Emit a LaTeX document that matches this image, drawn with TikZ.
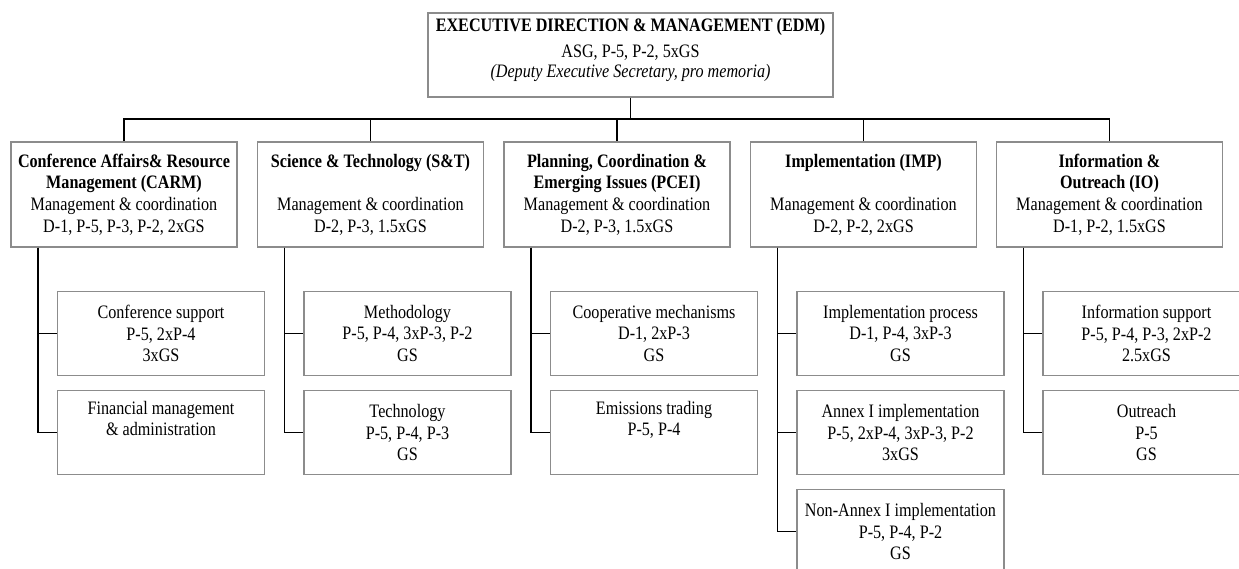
\documentclass[tikz,border=0pt]{standalone}
\usepackage{fontspec}
\setmainfont{Liberation Serif}[FakeStretch=0.85]

\begin{document}
\begin{tikzpicture}[x=1pt,y=-1pt,
    box/.style={draw=black!45, line width=1.1pt, align=center, inner sep=0pt,
                font=\fontsize{19}{21.7}\selectfont},
    headbox/.style={box, minimum width=405pt, minimum height=84pt},
    unitbox/.style={box, minimum width=226pt, minimum height=105pt},
    subbox/.style={box, minimum width=207pt, minimum height=84pt},
    link/.style={black, line width=1.3pt}]
            \useasboundingbox (0,0) rectangle (1239,569);
            \clip (0,0) rectangle (1239,569);

            % Executive direction
            \node[headbox] (edm) at (630.5,55)
                {\textbf{EXECUTIVE DIRECTION \& MANAGEMENT (EDM)}\\[5pt]
                 ASG, P-5, P-2, 5xGS\\[-2pt]
                 \textit{(Deputy Executive Secretary, pro memoria)}\\[-14pt]\strut};

            % Programmes
            \node[unitbox] (carm) at (124,194.5)
                {\textbf{Conference Affairs\& Resource}\\ \textbf{Management (CARM)}\\
                 Management \& coordination\\ D-1, P-5, P-3, P-2, 2xGS};
            \node[unitbox] (st) at (370.5,194.5)
                {\textbf{Science \& Technology (S\&T)}\\ \strut\\
                 Management \& coordination\\ D-2, P-3, 1.5xGS};
            \node[unitbox] (pcei) at (617,194.5)
                {\textbf{Planning, Coordination \&}\\ \textbf{Emerging Issues (PCEI)}\\
                 Management \& coordination\\ D-2, P-3, 1.5xGS};
            \node[unitbox] (imp) at (863.5,194.5)
                {\textbf{Implementation (IMP)}\\ \strut\\
                 Management \& coordination\\ D-2, P-2, 2xGS};
            \node[unitbox] (io) at (1109.5,194.5)
                {\textbf{Information \&}\\ \textbf{Outreach (IO)}\\
                 Management \& coordination\\ D-1, P-2, 1.5xGS};

            % Sub-programmes
            \node[subbox] (confsup) at (161,333.5) {Conference support\\ P-5, 2xP-4\\ 3xGS};
            \node[subbox] (finman) at (161,432.5) {Financial management\\ \& administration\\ \strut};
            \node[subbox] (meth) at (407.5,333.5) {Methodology\\ P-5, P-4, 3xP-3, P-2\\ GS};
            \node[subbox] (tech) at (407.5,432.5) {Technology\\ P-5, P-4, P-3\\ GS};
            \node[subbox] (coop) at (654,333.5) {Cooperative mechanisms\\ D-1, 2xP-3\\ GS};
            \node[subbox] (emis) at (654,432.5) {Emissions trading\\ P-5, P-4\\ \strut};
            \node[subbox] (implproc) at (900.5,333.5) {Implementation process\\ D-1, P-4, 3xP-3\\ GS};
            \node[subbox] (annexI) at (900.5,432.5) {Annex I implementation\\ P-5, 2xP-4, 3xP-3, P-2\\ 3xGS};
            \node[subbox] (nonannex) at (900.5,531.5) {Non-Annex I implementation\\ P-5, P-4, P-2\\ GS};
            \node[subbox] (infosup) at (1146.5,333.5) {Information support\\ P-5, P-4, P-3, 2xP-2\\ 2.5xGS};
            \node[subbox] (outreach) at (1146.5,432.5) {Outreach\\ P-5\\ GS};

            % Bus from EDM
            \coordinate (bus) at (edm.south |- 0,119);
            \draw[link] (edm.south) -- (bus);
            \foreach \u in {carm, st, pcei, imp, io} {
                \draw[link] (bus) -| (\u.north);
            }

            % Spines to sub-programmes
            \foreach \u/\s in {carm/confsup, carm/finman, st/meth, st/tech,
                               pcei/coop, pcei/emis, imp/implproc, imp/annexI,
                               imp/nonannex, io/infosup, io/outreach} {
                \draw[link] ([xshift=27.5pt]\u.south west) |- (\s.west);
            }

\end{tikzpicture}
\end{document}
